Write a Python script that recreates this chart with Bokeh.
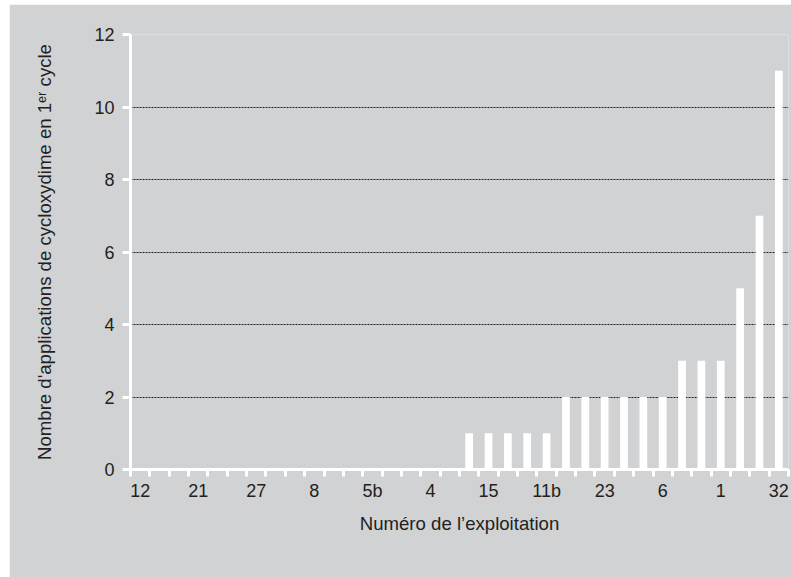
from bokeh.plotting import figure
from bokeh.layouts import row, column
from bokeh.models import Range1d, FixedTicker, ColumnDataSource, Spacer
from bokeh.embed import file_html
from bokeh.resources import INLINE

# 34 farms, sorted by number of applications; only every third one is labelled
values = [0]*17 + [1]*5 + [2]*6 + [3]*3 + [5, 7, 11]
labelled = {0: "12", 3: "21", 6: "27", 9: "8", 12: "5b", 15: "4",
            18: "15", 21: "11b", 24: "23", 27: "6", 30: "1", 33: "32"}
y_ticks = [0, 2, 4, 6, 8, 10, 12]

BG = "#d1d2d4"
TXT = "#231f20"
FONT = "Liberation Sans"

n = len(values)
xs = [i + 0.5 for i in range(n)]
src = ColumnDataSource(dict(x=xs, top=values))

p = figure(width=782, height=573, output_backend="svg", toolbar_location=None,
           x_range=Range1d(0, n), y_range=Range1d(0, 12),
           min_border_left=121, min_border_right=3, min_border_top=30, min_border_bottom=108)
p.background_fill_color = BG
p.border_fill_color = BG
p.outline_line_color = None

p.vbar(x="x", top="top", width=0.4, bottom=0, source=src, color="white", line_color=None)

# x axis
lab_pos = [k + 0.5 for k in sorted(labelled)]
p.xaxis.ticker = FixedTicker(ticks=lab_pos, minor_ticks=list(range(n + 1)))
p.xaxis.major_label_overrides = {k + 0.5: v for k, v in labelled.items()}
p.xaxis.major_tick_out = 0
p.xaxis.major_tick_in = 0
p.xaxis.minor_tick_out = 7
p.xaxis.minor_tick_in = 0
p.xaxis.minor_tick_line_color = "white"
p.xaxis.minor_tick_line_width = 3
p.xaxis.axis_line_color = "white"
p.xaxis.axis_line_width = 3
p.xaxis.major_label_text_font = FONT
p.xaxis.major_label_text_font_size = "18px"
p.xaxis.major_label_text_color = TXT
p.xaxis.major_label_standoff = 4
p.xaxis.axis_label = "Numéro de l’exploitation"
p.xaxis.axis_label_text_font = FONT
p.xaxis.axis_label_text_font_size = "18.6px"
p.xaxis.axis_label_text_font_style = "normal"
p.xaxis.axis_label_text_color = TXT
p.xaxis.axis_label_standoff = 9

# y axis
p.yaxis.ticker = FixedTicker(ticks=y_ticks, minor_ticks=[])
p.yaxis.major_tick_out = 8
p.yaxis.major_tick_in = 0
p.yaxis.major_tick_line_color = "white"
p.yaxis.major_tick_line_width = 3
p.yaxis.axis_line_color = "white"
p.yaxis.axis_line_width = 3
p.yaxis.major_label_text_font = FONT
p.yaxis.major_label_text_font_size = "18px"
p.yaxis.major_label_text_color = TXT
p.yaxis.major_label_standoff = 8
p.yaxis.axis_label = "Nombre d'applications de cycloxydime en 1ᵉʳ cycle"
p.yaxis.axis_label_text_font = FONT
p.yaxis.axis_label_text_font_size = "18.6px"
p.yaxis.axis_label_text_font_style = "normal"
p.yaxis.axis_label_text_color = TXT
p.yaxis.axis_label_standoff = 36

# grid
p.xgrid.grid_line_color = None
p.ygrid.ticker = FixedTicker(ticks=[2, 4, 6, 8, 10, 12])
p.ygrid.grid_line_color = "#222222"
p.ygrid.grid_line_width = 1
p.ygrid.grid_line_dash = "2 1"

layout = row(Spacer(width=9, height=10), column(Spacer(width=10, height=4), p))
open("out.html", "w").write(file_html(layout, INLINE))
